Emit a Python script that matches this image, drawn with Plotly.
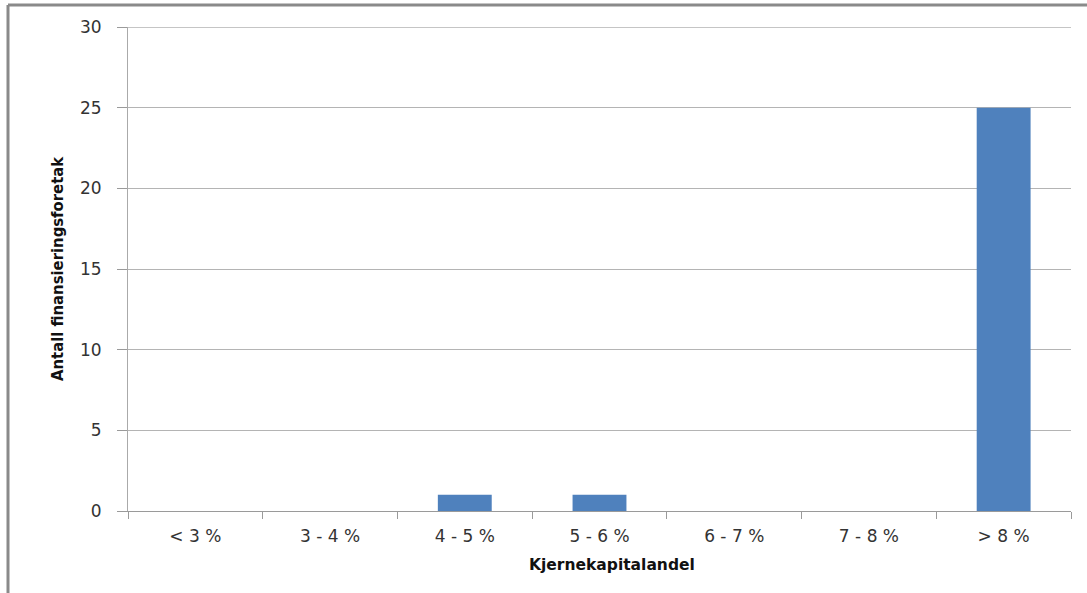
import plotly.graph_objects as go

categories = ["< 3 %", "3 - 4 %", "4 - 5 %", "5 - 6 %", "6 - 7 %", "7 - 8 %", "> 8 %"]
values = [0, 0, 1, 1, 0, 0, 25]
y_ticks = [0, 5, 10, 15, 20, 25, 30]
x_title = "Kjernekapitalandel"
y_title = "Antall finansieringsforetak"

W, H = 1087, 593
L, R, T, B = 128, 16, 27, 82
pw, ph = W - L - R, H - T - B

def px_x(x):
    return (x - L) / pw

def px_y(y):
    return (H - B - y) / ph

fig = go.Figure(go.Bar(x=categories, y=values, marker=dict(color="#4f81bd", line=dict(width=0)), width=0.4))

fig.update_layout(
    width=W, height=H,
    margin=dict(l=L, r=R, t=T, b=B),
    paper_bgcolor="white", plot_bgcolor="white",
    showlegend=False,
    font=dict(family="DejaVu Sans, Verdana, sans-serif", size=17, color="#333333"),
    xaxis=dict(
        type="category", tickson="boundaries", ticks="outside", ticklen=7,
        tickcolor="#9a9a9a", showline=True, linecolor="#9a9a9a", linewidth=1,
        showgrid=False, tickfont=dict(size=17, color="#333333"),
        ticklabelstandoff=10,
    ),
    yaxis=dict(
        range=[0, 30], tickvals=y_ticks, ticks="outside", ticklen=10,
        tickcolor="#9a9a9a", showline=True, linecolor="#aaaaaa", linewidth=1,
        showgrid=True, gridcolor="#b4b4b4", gridwidth=1, zeroline=False,
        tickfont=dict(size=17, color="#333333"), ticklabelstandoff=12,
    ),
    annotations=[
        dict(text=f"<b>{y_title}</b>", textangle=-90, xref="paper", yref="paper",
             x=px_x(57), y=px_y(269), xanchor="center", yanchor="middle", showarrow=False,
             font=dict(family="Liberation Sans Narrow, DejaVu Sans Condensed, Arial Narrow, sans-serif", size=16.5, color="#111111")),
        dict(text=f"<b>{x_title}</b>", xref="paper", yref="paper",
             x=px_x(612), y=px_y(565), xanchor="center", yanchor="middle", showarrow=False,
             font=dict(family="DejaVu Sans, Verdana, sans-serif", size=15.5, color="#111111")),
    ],
    shapes=[
        dict(type="line", xref="paper", yref="paper", x0=px_x(8), x1=px_x(W + 5), y0=px_y(5), y1=px_y(5),
             line=dict(color="#8a8a8a", width=3)),
        dict(type="line", xref="paper", yref="paper", x0=px_x(8), x1=px_x(8), y0=px_y(5), y1=px_y(H + 5),
             line=dict(color="#8a8a8a", width=3)),
        dict(type="line", xref="paper", yref="y", x0=0, x1=1, y0=30, y1=30,
             line=dict(color="#8c8c8c", width=1)),
    ],
)

fig.write_html("out.html")
